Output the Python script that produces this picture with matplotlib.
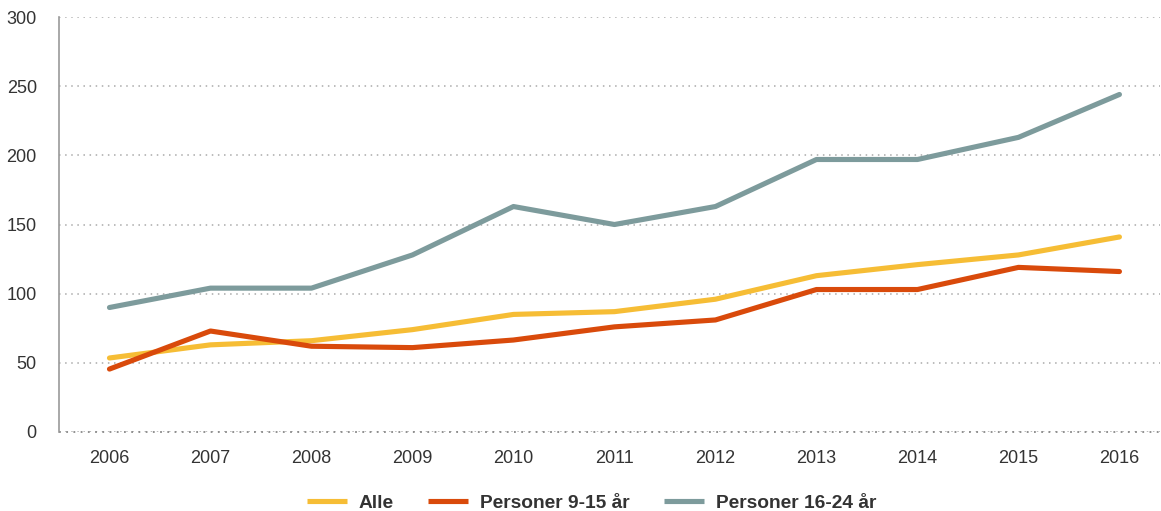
import numpy as np
import matplotlib.pyplot as plt

plt.rcParams['font.family'] = ['Liberation Sans', 'DejaVu Sans']

years = ['2006', '2007', '2008', '2009', '2010', '2011', '2012', '2013', '2014', '2015', '2016']
alle = [53.5, 63, 66, 74, 85, 87, 96, 113, 121, 128, 141]
pers_9_15 = [45.5, 73, 62, 61, 66.5, 76, 81, 103, 103, 119, 116]
pers_16_24 = [90, 104, 104, 128, 163, 150, 163, 197, 197, 213, 244]

fig = plt.figure(figsize=(11.61, 5.11), dpi=100)
ax = fig.add_axes([0.0508, 0.1546, 0.9482, 0.8121])

x = np.arange(len(years))
ax.plot(x, alle, color='#f6bd35', lw=3.7, label='Alle', solid_capstyle='round')
ax.plot(x, pers_9_15, color='#d94a0b', lw=3.7, label='Personer 9-15 år', solid_capstyle='round')
ax.plot(x, pers_16_24, color='#7d9b9c', lw=3.7, label='Personer 16-24 år', solid_capstyle='round')

ax.set_ylim(0, 300)
ax.set_yticks(range(0, 301, 50))
ax.set_xlim(-0.5, 10.4)
ax.set_xticks(x)
ax.set_xticklabels(years)
ax.yaxis.grid(True, linestyle=(0, (1, 3)), color='#aaaaaa', lw=1.1)
ax.set_axisbelow(True)
ax.axhline(0, linestyle=(0, (1, 3)), color='#888888', lw=1.3, clip_on=False)
for s in ['top', 'right', 'bottom']:
    ax.spines[s].set_visible(False)
ax.spines['left'].set_color('#999999')
ax.spines['left'].set_linewidth(1.2)
ax.tick_params(length=0, labelsize=13, colors='#333333')
ax.tick_params(axis='y', pad=16)
ax.tick_params(axis='x', pad=13)

leg = fig.legend(loc='lower center', bbox_to_anchor=(0.5095, -0.035), ncol=3, frameon=False,
                 prop={'weight': 'bold', 'size': 13.8}, handlelength=2.1, columnspacing=1.8,
                 handletextpad=0.6)
for t in leg.get_texts():
    t.set_color('#333333')
for h in leg.get_lines():
    h.set_solid_capstyle('butt')

fig.savefig('out.png', dpi=100)
